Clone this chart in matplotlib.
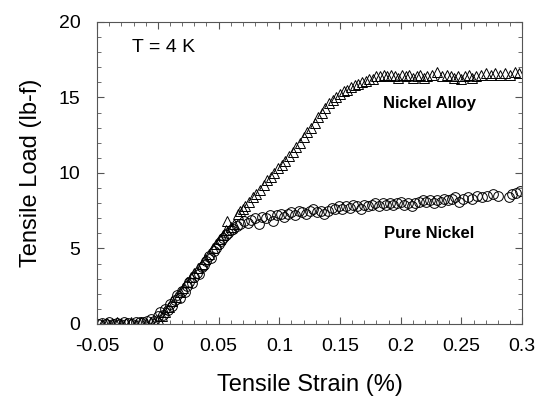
import matplotlib
matplotlib.use("Agg")
import matplotlib.pyplot as plt
import matplotlib.transforms as mtransforms
from matplotlib.ticker import MultipleLocator

plt.rcParams['font.family'] = ['Liberation Sans', 'DejaVu Sans']

# Nickel alloy (triangles)
alloy_strain = [-0.046, -0.042, -0.038, -0.034, -0.030, -0.026, -0.022, -0.018, -0.014, -0.010, -0.006, -0.003,
                0.000, 0.003, 0.006, 0.009, 0.012, 0.015, 0.018, 0.021, 0.024, 0.027, 0.030, 0.033, 0.036,
                0.039, 0.042, 0.045, 0.048, 0.051, 0.054, 0.056, 0.057, 0.060, 0.063,
                0.066, 0.068, 0.070, 0.072, 0.075, 0.078, 0.081, 0.084, 0.087, 0.090, 0.093, 0.096, 0.099,
                0.102, 0.105, 0.108, 0.111, 0.114, 0.117, 0.120, 0.123, 0.126, 0.129, 0.132, 0.135, 0.138,
                0.141, 0.144, 0.147, 0.150, 0.153, 0.156, 0.159, 0.162, 0.165, 0.168, 0.171, 0.174, 0.177,
                0.180, 0.183, 0.186, 0.189, 0.192, 0.195, 0.198, 0.201, 0.204, 0.207, 0.210, 0.213, 0.216,
                0.219, 0.222, 0.226, 0.230, 0.234, 0.238, 0.241, 0.244, 0.247, 0.250, 0.253, 0.256, 0.259,
                0.262, 0.266, 0.270, 0.274, 0.278, 0.282, 0.286, 0.290, 0.294, 0.297]
alloy_load = [0.0, 0.05, 0.0, 0.1, 0.0, 0.05, 0.1, 0.0, 0.1, 0.05, 0.1, 0.15,
              0.3, 0.5, 0.8, 1.1, 1.5, 1.8, 2.1, 2.4, 2.8, 3.1, 3.4, 3.7, 4.0,
              4.3, 4.6, 5.0, 5.3, 5.6, 5.9, 6.2, 6.8, 6.4, 6.6,
              7.3, 7.5, 7.6, 7.8, 8.1, 8.4, 8.6, 8.9, 9.2, 9.5, 9.7, 10.0, 10.3,
              10.5, 10.8, 11.1, 11.4, 11.7, 12.0, 12.4, 12.7, 13.0, 13.3, 13.7, 14.0, 14.3,
              14.6, 14.8, 15.0, 15.2, 15.4, 15.5, 15.7, 15.8, 15.9, 16.0, 16.1, 16.2, 16.2,
              16.4, 16.4, 16.5, 16.4, 16.5, 16.4, 16.3, 16.5, 16.4, 16.5, 16.3, 16.4, 16.5,
              16.3, 16.4, 16.5, 16.7, 16.4, 16.5, 16.4, 16.3, 16.4, 16.2, 16.4, 16.5, 16.3,
              16.4, 16.5, 16.6, 16.5, 16.6, 16.5, 16.6, 16.5, 16.7, 16.6]

# Pure nickel (circles)
nickel_strain = [-0.049, -0.046, -0.043, -0.040, -0.037, -0.034, -0.031, -0.028, -0.025, -0.021, -0.018, -0.015,
                 -0.012, -0.009, -0.006, -0.003,
                 0.000, 0.002, 0.004, 0.006, 0.008, 0.010, 0.012, 0.014, 0.016, 0.018, 0.020, 0.022, 0.024,
                 0.026, 0.028, 0.030, 0.032, 0.034, 0.036, 0.038, 0.040, 0.042, 0.044, 0.046, 0.048, 0.050,
                 0.052, 0.054, 0.056, 0.058, 0.060, 0.062, 0.065, 0.068, 0.071, 0.074, 0.077, 0.080, 0.083,
                 0.086, 0.089, 0.092, 0.095, 0.098, 0.101, 0.104, 0.107, 0.110, 0.113, 0.116, 0.119, 0.122,
                 0.125, 0.128, 0.131, 0.134, 0.137, 0.140, 0.143, 0.146, 0.149, 0.152, 0.155, 0.158, 0.161,
                 0.164, 0.167, 0.170, 0.173, 0.176, 0.179, 0.182, 0.185, 0.188, 0.191, 0.194, 0.197, 0.200,
                 0.203, 0.206, 0.209, 0.212, 0.215, 0.218, 0.221, 0.224, 0.227, 0.230, 0.233, 0.236, 0.239,
                 0.242, 0.245, 0.248, 0.251, 0.255, 0.259, 0.263, 0.267, 0.271, 0.276, 0.280, 0.289, 0.292,
                 0.295, 0.298]
nickel_load = [0.0, 0.05, 0.0, 0.1, 0.0, 0.05, 0.0, 0.1, 0.05, 0.0, 0.1, 0.15,
               0.1, 0.2, 0.3, 0.2,
               0.5, 0.8, 0.6, 1.0, 0.9, 1.3, 1.2, 1.6, 1.9, 1.7, 2.2, 2.1, 2.5,
               2.8, 2.7, 3.1, 3.4, 3.3, 3.8, 3.9, 4.2, 4.5, 4.4, 4.8, 5.0, 5.3,
               5.5, 5.7, 5.9, 6.0, 6.2, 6.3, 6.5, 6.6, 6.8, 6.7, 6.9, 7.0, 6.6,
               7.1, 7.0, 7.2, 6.8, 7.2, 7.3, 7.1, 7.3, 7.4, 7.2, 7.5, 7.4, 7.3,
               7.5, 7.6, 7.4, 7.5, 7.3, 7.5, 7.7, 7.6, 7.8, 7.6, 7.8, 7.7, 7.9,
               7.8, 7.6, 7.9, 7.8, 7.9, 8.0, 7.8, 8.0, 7.9, 8.0, 7.9, 8.0, 8.1,
               7.9, 8.0, 7.8, 8.0, 8.1, 8.2, 8.1, 8.2, 8.0, 8.2, 8.1, 8.3, 8.2,
               8.3, 8.4, 8.1, 8.3, 8.4, 8.3, 8.5, 8.4, 8.5, 8.6, 8.5, 8.4, 8.6,
               8.7, 8.8]

xtick_vals = [-0.05, 0, 0.05, 0.1, 0.15, 0.2, 0.25, 0.3]
xtick_labels = ['-0.05', '0', '0.05', '0.1', '0.15', '0.2', '0.25', '0.3']

fig = plt.figure(figsize=(5.4, 3.98), dpi=100)
ax = fig.add_axes([0.18, 0.186, 0.787, 0.759])

ax.plot(nickel_strain, nickel_load, 'o', ms=7, mfc='none', mec='black', mew=0.7)
ax.plot(alloy_strain, alloy_load, '^', ms=7, mfc='none', mec='black', mew=0.7)

ax.set_xlim(-0.05, 0.3)
ax.set_ylim(0, 20)
ax.xaxis.set_minor_locator(MultipleLocator(0.01))
ax.yaxis.set_major_locator(MultipleLocator(5))
ax.yaxis.set_minor_locator(MultipleLocator(1))
ax.set_xticks(xtick_vals)
ax.set_xticklabels(xtick_labels)
ax.tick_params(which='both', direction='in', top=True, right=True, labelsize=14, color='#555555')
ax.tick_params(which='major', length=5)
ax.tick_params(which='minor', length=3)
ax.tick_params(axis='x', which='major', pad=10)
ax.tick_params(axis='y', which='major', pad=12)
for s in ax.spines.values():
    s.set_color('#555555')

# shift the "0" y label left so it clears "-0.05"
fig.canvas.draw()
lbl0 = ax.get_yticklabels()[0]
lbl0.set_transform(lbl0.get_transform() + mtransforms.ScaledTranslation(-10 / 100, 0, fig.dpi_scale_trans))

ax.set_xlabel('Tensile Strain (%)', fontsize=17, labelpad=14)
ax.set_ylabel('Tensile Load (lb-f)', fontsize=17, labelpad=12)

ax.text(-0.021, 18.3, 'T = 4 K', fontsize=14, va='center')
ax.text(0.185, 14.6, 'Nickel Alloy', fontsize=12, fontweight='bold', va='center')
ax.text(0.186, 6.0, 'Pure Nickel', fontsize=12, fontweight='bold', va='center')

fig.savefig('out.png', dpi=100)
